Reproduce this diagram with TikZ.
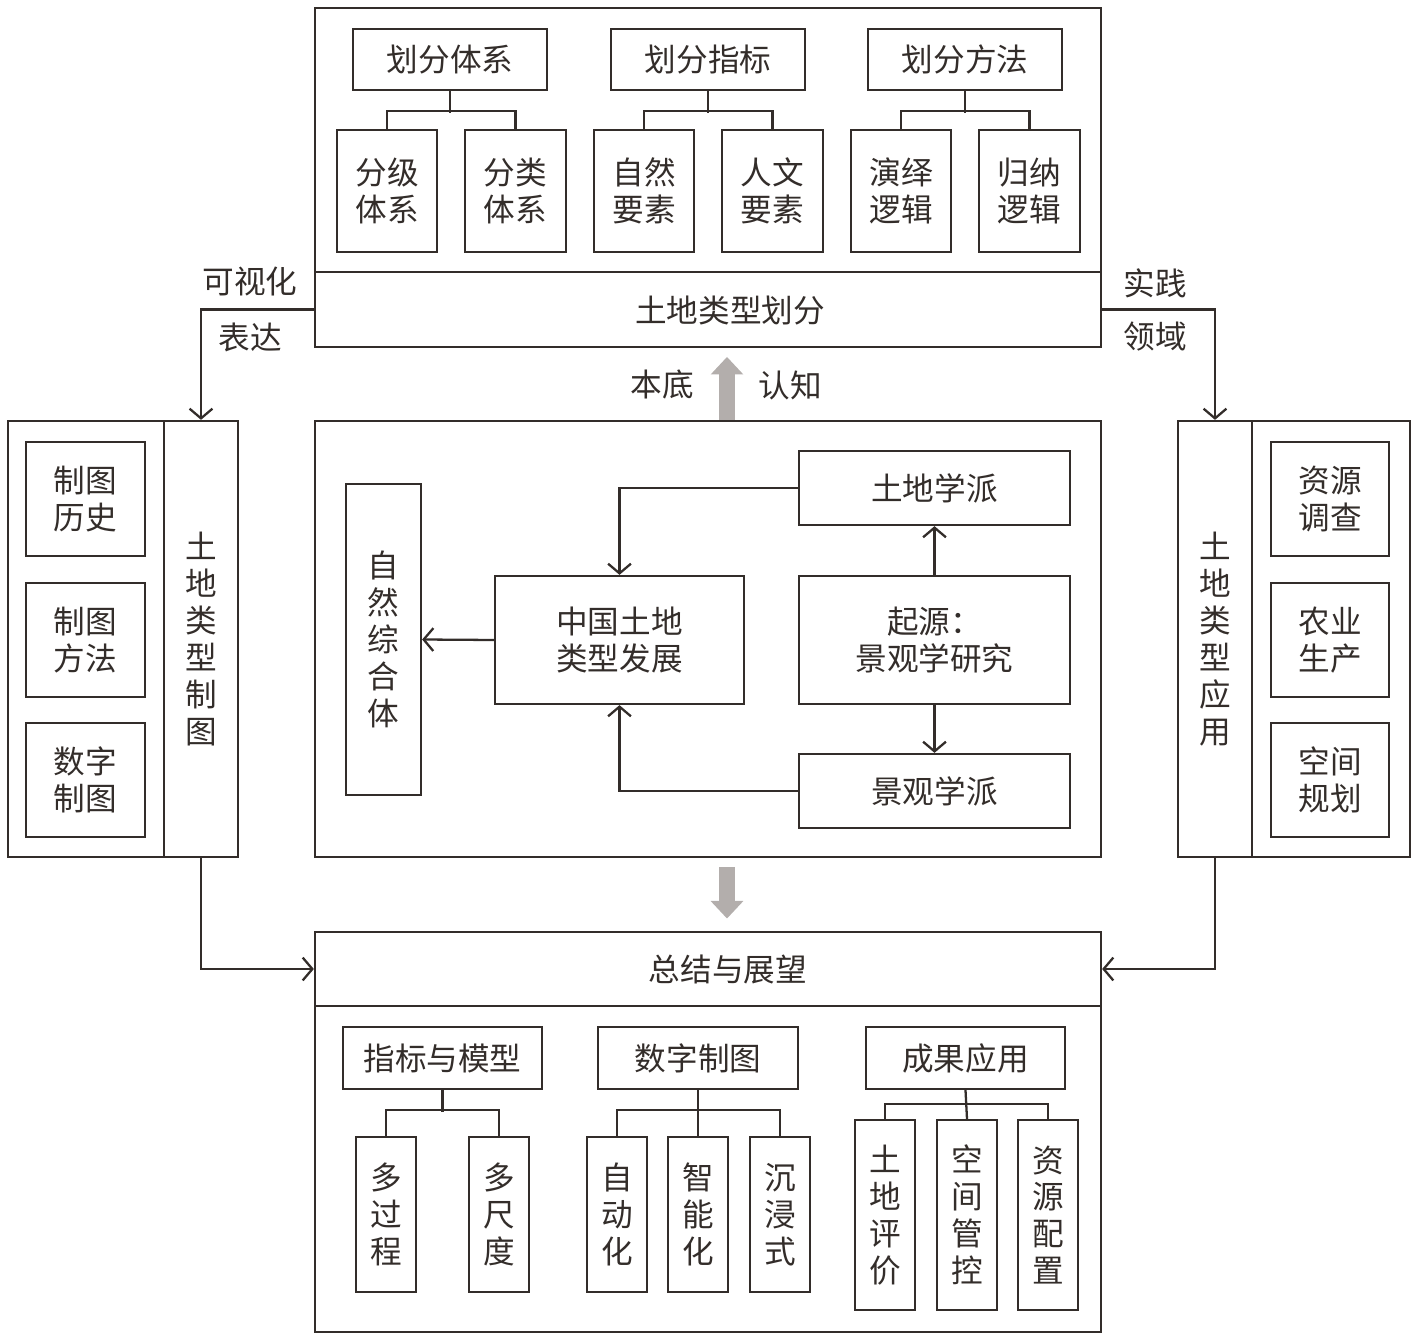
\documentclass[tikz,border=0pt]{standalone}
\usepackage{fontspec}
\setmainfont{Noto Sans CJK SC}
\usetikzlibrary{arrows.meta, fit, positioning}
\definecolor{linec}{HTML}{332D2A}
\definecolor{grayc}{HTML}{B3AEAC}

\begin{document}
\begin{tikzpicture}[x=0.02cm, y=-0.02cm, line width=1.3pt, color=linec,
    font=\fontsize{18}{21}\selectfont,
    box/.style={draw, inner sep=0pt, fit={#1}},
    txt/.style={label={[align=center]center:#1}},
    arr/.style={-{Straight Barb[length=5.5pt,width=13pt]}},
    grayarr/.style={draw=grayc, line width=9pt, -{Triangle[length=10pt,width=18pt]}}]
    \useasboundingbox (0,0) rectangle (1417,1341);

    % top part
    \node[box={(315,8) (1101,272)}] (top) {};
    \node[box={(315,272) (1101,347)}] (toplabel) {};
    \node (toptext) at (730,311) {土地类型划分};

    \node[box={(353,29) (547,90)}, txt=划分体系] (h1) {};
    \node[box={(611,29) (805,90)}, txt=划分指标] (h2) {};
    \node[box={(868,29) (1062,90)}, txt=划分方法] (h3) {};
    \node[box={(337,130) (437,252)}, txt={分级\\体系}] (c11) {};
    \node[box={(465,130) (566,252)}, txt={分类\\体系}] (c12) {};
    \node[box={(594,130) (694,252)}, txt={自然\\要素}] (c21) {};
    \node[box={(722,130) (823,252)}, txt={人文\\要素}] (c22) {};
    \node[box={(851,130) (951,252)}, txt={演绎\\逻辑}] (c31) {};
    \node[box={(979,130) (1080,252)}, txt={归纳\\逻辑}] (c32) {};

    \foreach \h/\a/\b in {h1/c11/c12, h2/c21/c22, h3/c31/c32} {
        \draw (\h.south) -- ++(0,22);
        \draw (\a.north) -- ++(0,-18) -| (\b.north);
    }

    % left and right parts
    \node[box={(8,421) (164,857)}] (left) {};
    \node[box={(164,421) (238,857)}, txt={土\\地\\类\\型\\制\\图}] (leftlabel) {};
    \node[box={(26,442) (145,556)}, txt={制图\\历史}] (l1) {};
    \node[box={(26,583) (145,697)}, txt={制图\\方法}] (l2) {};
    \node[box={(26,723) (145,837)}, txt={数字\\制图}] (l3) {};

    \node[box={(1178,421) (1252,857)}, txt={土\\地\\类\\型\\应\\用}] (rightlabel) {};
    \node[box={(1252,421) (1410,857)}] (right) {};
    \node[box={(1271,442) (1389,556)}, txt={资源\\调查}] (r1) {};
    \node[box={(1271,583) (1389,697)}, txt={农业\\生产}] (r2) {};
    \node[box={(1271,723) (1389,837)}, txt={空间\\规划}] (r3) {};

    % middle part
    \node[box={(315,421) (1101,857)}] (mid) {};
    \node[box={(346,484) (421,795)}, txt={自\\然\\综\\合\\体}] (nature) {};
    \node[box={(495,576) (744,704)}, txt={中国土地\\类型发展}] (china) {};
    \node[box={(799,451) (1070,525)}, txt=土地学派] (soil) {};
    \node[box={(799,576) (1070,704)}, txt={起源：\\景观学研究}] (origin) {};
    \node[box={(799,754) (1070,828)}, txt=景观学派] (land) {};

    \draw[arr] (china.west) -- (nature.east);
    \draw[arr] (soil.west) -| (china.north);
    \draw[arr] (land.west) -| (china.south);
    \draw[arr] (origin.north) -- (soil.south);
    \draw[arr] (origin.south) -- (land.north);

    % bottom part
    \node[box={(315,932) (1101,1006)}] (bottomlabel) {};
    \node (bottomtext) at (728,969) {总结与展望};
    \node[box={(315,1006) (1101,1332)}] (bottom) {};

    \node[box={(343,1027) (542,1089)}, txt=指标与模型] (g1) {};
    \node[box={(598,1027) (798,1089)}, txt=数字制图] (g2) {};
    \node[box={(866,1027) (1065,1089)}, txt=成果应用] (g3) {};
    \node[box={(356,1137) (416,1292)}, txt={多\\过\\程}] (d11) {};
    \node[box={(469,1137) (529,1292)}, txt={多\\尺\\度}] (d12) {};
    \node[box={(587,1137) (647,1292)}, txt={自\\动\\化}] (d21) {};
    \node[box={(668,1137) (728,1292)}, txt={智\\能\\化}] (d22) {};
    \node[box={(750,1137) (810,1292)}, txt={沉\\浸\\式}] (d23) {};
    \node[box={(855,1120) (915,1310)}, txt={土\\地\\评\\价}] (d31) {};
    \node[box={(937,1120) (997,1310)}, txt={空\\间\\管\\控}] (d32) {};
    \node[box={(1018,1120) (1078,1310)}, txt={资\\源\\配\\置}] (d33) {};

    \draw (g1.south) -- ++(0,22);
    \draw (d11.north) -- ++(0,-26) -| (d12.north);
    \draw (g2.south) -- (d22.north);
    \draw (d21.north) -- ++(0,-26) -| (d23.north);
    \draw (g3.south) -- (d32.north);
    \draw (d31.north) -- ++(0,-15) -| (d33.north);

    % connections between the parts
    \draw[arr] (toplabel.west) -| (leftlabel.north);
    \draw[arr] (toplabel.east) -| (rightlabel.north);
    \draw[arr] (leftlabel.south) |- (bottomlabel.west);
    \draw[arr] (rightlabel.south) |- (bottomlabel.east);
    \node (visual) at (250,282) {可视化};
    \node (express) at (250,337) {表达};
    \node (practice) at (1155,283) {实践};
    \node (field) at (1155,337) {领域};

    \coordinate (ga) at (727,0);
    \draw[grayarr, shorten >=5] (ga |- mid.north) -- (ga |- toplabel.south);
    \draw[grayarr, shorten <=5, shorten >=7] (ga |- mid.south) -- (ga |- bottomlabel.north);
    \node (base) at (662,385) {本底};
    \node (know) at (790,385) {认知};
\end{tikzpicture}
\end{document}
